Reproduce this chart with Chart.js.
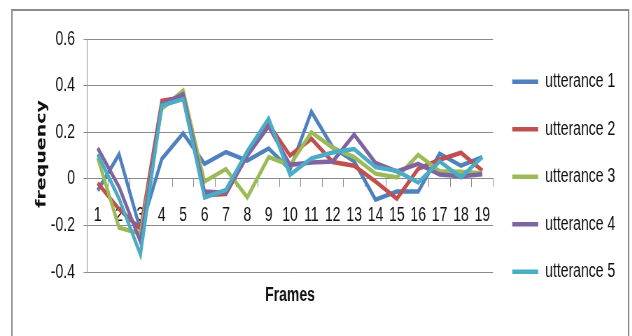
<!DOCTYPE html>
<html>
<head>
<meta charset="utf-8">
<script src="https://cdn.jsdelivr.net/npm/chart.js@4.4.1/dist/chart.umd.min.js"></script>
<style>
    html, body { margin: 0; padding: 0; background: #fff; overflow: hidden; }
    /* chart is laid out wide and squeezed horizontally, giving the tall narrow lettering */
    #frequencyChart { transform: scaleX(0.7); transform-origin: 0 0; }
</style>
</head>
<body>
<canvas id="frequencyChart"></canvas>
<script>
const frames = ['1', '2', '3', '4', '5', '6', '7', '8', '9', '10',
                '11', '12', '13', '14', '15', '16', '17', '18', '19'];
const yTicks = [-0.4, -0.2, 0, 0.2, 0.4, 0.6];
const seriesNames = ['utterance 1', 'utterance 2', 'utterance 3', 'utterance 4', 'utterance 5'];

const utterance1 = [-0.05, 0.105, -0.22, 0.085, 0.195, 0.064, 0.115, 0.078, 0.13, 0.04,
                    0.288, 0.135, 0.075, -0.09, -0.055, -0.055, 0.108, 0.056, 0.093];
const utterance2 = [-0.018, -0.13, -0.215, 0.335, 0.35, -0.07, -0.065, 0.1, 0.235, 0.1,
                    0.172, 0.072, 0.056, -0.012, -0.085, 0.043, 0.082, 0.112, 0.035];
const utterance3 = [0.09, -0.21, -0.235, 0.3, 0.378, -0.012, 0.042, -0.08, 0.093, 0.058,
                    0.2, 0.133, 0.093, 0.022, 0.006, 0.103, 0.032, 0.03, 0.024];
const utterance4 = [0.132, -0.035, -0.27, 0.32, 0.362, -0.055, -0.06, 0.1, 0.225, 0.06,
                    0.07, 0.074, 0.19, 0.068, 0.032, 0.064, 0.018, 0.011, 0.02];
const utterance5 = [0.105, -0.085, -0.325, 0.314, 0.342, -0.08, -0.048, 0.118, 0.258, 0.017,
                    0.088, 0.113, 0.128, 0.05, 0.034, -0.016, 0.075, 0.006, 0.094];

const seriesColors = ['#4F81BD', '#C0504D', '#9BBB59', '#8064A2', '#4BACC6'];
const fontFamily = '"Liberation Sans", Arial, sans-serif';
const textColor = '#111';
const gridColor = '#8a8a8a';

const canvas = document.getElementById('frequencyChart');
canvas.style.width = '903px';
canvas.style.height = '336px';
canvas.width = 903;
canvas.height = 336;

// outer frame and the rotated y axis title
const decorations = {
    id: 'decorations',
    afterDraw(chart) {
        const ctx = chart.ctx;
        ctx.save();
        ctx.strokeStyle = gridColor;
        ctx.lineWidth = 2;
        ctx.strokeRect(17, 10, 881, 340);

        ctx.translate(60, 154);
        ctx.rotate(-Math.PI / 2);
        ctx.font = 'bold 19px "DejaVu Sans", sans-serif';
        ctx.textAlign = 'center';
        ctx.textBaseline = 'middle';
        ctx.fillStyle = textColor;
        ctx.fillText('frequency', 0, 0);
        ctx.restore();
    }
};

const series = [utterance1, utterance2, utterance3, utterance4, utterance5];

new Chart(canvas, {
    type: 'line',
    data: {
        labels: frames,
        datasets: series.map((values, i) => ({
            label: seriesNames[i],
            data: values,
            borderColor: seriesColors[i],
            backgroundColor: seriesColors[i],
            borderWidth: 4.5,
            pointRadius: 0,
            tension: 0,
            fill: false,
            order: series.length - i // later series on top
        }))
    },
    options: {
        responsive: false,
        animation: false,
        devicePixelRatio: 1,
        layout: {
            padding: { top: 39, bottom: 21.6, left: 60, right: 16.7 }
        },
        plugins: {
            legend: {
                position: 'right',
                maxWidth: 182,
                labels: {
                    boxWidth: 37,
                    boxHeight: 4.5,
                    padding: 27.5,
                    color: textColor,
                    font: { family: fontFamily, size: 20 },
                    sort: (a, b) => a.datasetIndex - b.datasetIndex,
                    generateLabels: chart => Chart.defaults.plugins.legend.labels.generateLabels(chart)
                        .map(item => Object.assign(item, { lineWidth: 0 }))
                }
            },
            tooltip: { enabled: false }
        },
        scales: {
            x: {
                axis: 'x',
                type: 'category',
                position: { y: 0 },
                offset: true,
                afterFit: scale => { scale.height = 0; },
                grid: {
                    offset: true,
                    drawOnChartArea: false,
                    tickLength: 8,
                    color: gridColor
                },
                border: { color: gridColor, width: 1 },
                ticks: {
                    padding: 16.5,
                    autoSkip: false,
                    maxRotation: 0,
                    color: textColor,
                    font: { family: fontFamily, size: 20 }
                }
            },
            x2: {
                axis: 'x',
                type: 'category',
                position: 'bottom',
                offset: true,
                grid: { display: false, drawTicks: false },
                border: { display: false },
                ticks: { display: false },
                title: {
                    display: true,
                    text: 'Frames',
                    color: textColor,
                    font: { family: fontFamily, size: 20, weight: 'bold' },
                    padding: { top: 11, bottom: 7.4 }
                }
            },
            y: {
                min: -0.4,
                max: 0.6,
                afterFit: scale => { scale.width = 64.3; },
                afterBuildTicks: scale => { scale.ticks = yTicks.map(v => ({ value: v })); },
                grid: { color: gridColor, tickLength: 5 },
                border: { color: gridColor },
                ticks: {
                    padding: 12.3,
                    color: textColor,
                    font: { family: fontFamily, size: 20 },
                    callback: v => String(v)
                }
            }
        }
    },
    plugins: [decorations]
});
</script>
</body>
</html>
